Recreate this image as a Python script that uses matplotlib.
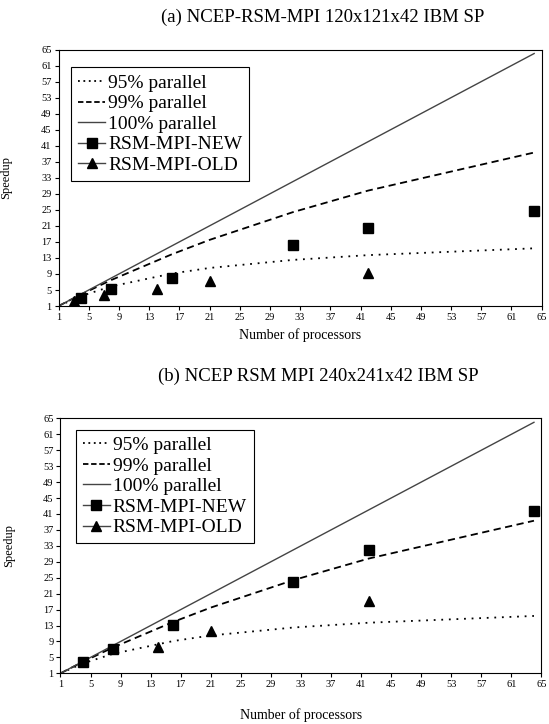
import matplotlib
matplotlib.use("Agg")
import matplotlib.pyplot as plt
from matplotlib.lines import Line2D

# Amdahl reference curves
n_curve = [1, 4, 8, 16, 21, 32, 42, 64]
speed_95 = [1, 3.5, 5.9, 9.1, 10.5, 12.5, 13.7, 15.4]
speed_99 = [1, 3.9, 7.5, 13.9, 17.5, 24.4, 29.8, 39.3]
speed_100 = [1, 4, 8, 16, 21, 32, 42, 64]

# (a) 120x121x42
a_new_n = [4, 8, 16, 32, 42, 64]
a_new_speed = [3.0, 5.2, 8.1, 16.2, 20.5, 24.8]
a_old_n = [3, 7, 14, 21, 42]
a_old_speed = [2.3, 3.8, 5.3, 7.3, 9.2]

# (b) 240x241x42
b_new_n = [4, 8, 16, 32, 42, 64]
b_new_speed = [3.8, 7.0, 13.2, 23.8, 31.9, 41.8]
b_old_n = [14, 21, 42]
b_old_speed = [7.5, 11.6, 19.1]

ticks = list(range(1, 66, 4))
titles = ["(a) NCEP-RSM-MPI 120x121x42 IBM SP", "(b) NCEP RSM MPI 240x241x42 IBM SP"]
labels = ["95% parallel", "99% parallel", "100% parallel", "RSM-MPI-NEW", "RSM-MPI-OLD"]

plt.rcParams["font.family"] = ["Liberation Serif", "DejaVu Serif"]

fig = plt.figure(figsize=(5.49, 7.24), dpi=100)
ax_a = fig.add_axes([0.1066, 0.5773, 0.8801, 0.3543])
ax_b = fig.add_axes([0.1102, 0.0700, 0.8761, 0.3522])

dash99 = (0, (4, 2.5))
dot95 = (0, (1, 3.2))


def draw(ax, new_n, new_s, old_n, old_s, legend_anchor, xlabel_y):
    ax.plot(n_curve, speed_95, color="black", lw=1.3, ls=dot95)
    ax.plot(n_curve, speed_99, color="black", lw=1.3, ls=dash99)
    ax.plot(n_curve, speed_100, color="#444444", lw=1.0, ls="-")
    ax.plot(new_n, new_s, ls="none", marker="s", ms=6.5, color="black")
    ax.plot(old_n, old_s, ls="none", marker="^", ms=7, color="black")

    ax.set_xlim(1, 65)
    ax.set_ylim(1, 65)
    ax.set_xticks(ticks)
    ax.set_yticks(ticks)
    ax.tick_params(direction="out", length=3, width=0.8, labelsize=7.5, pad=2)
    for s in ax.spines.values():
        s.set_linewidth(0.8)

    ax.set_xlabel("Number of processors", fontsize=10)
    ax.xaxis.set_label_coords(0.5, xlabel_y)
    ax.set_ylabel("Speedup", fontsize=9)
    ax.yaxis.set_label_coords(-0.095, 0.5)

    handles = [
        Line2D([], [], color="black", lw=1.3, ls=(0, (1, 2))),
        Line2D([], [], color="black", lw=1.3, ls=(0, (3, 1.5))),
        Line2D([], [], color="#444444", lw=1.0),
        Line2D([], [], color="#444444", lw=1.0, marker="s", ms=6.5, mfc="black", mec="black"),
        Line2D([], [], color="#444444", lw=1.0, marker="^", ms=7, mfc="black", mec="black"),
    ]
    leg = ax.legend(handles, labels, loc="upper left", bbox_to_anchor=legend_anchor,
                    borderaxespad=0, fontsize=14, frameon=True, fancybox=False,
                    edgecolor="black", framealpha=1, handlelength=1.4,
                    handletextpad=0.15, labelspacing=0.15, borderpad=0.35)
    leg.get_frame().set_linewidth(0.8)


draw(ax_a, a_new_n, a_new_speed, a_old_n, a_old_speed, (0.026, 0.93), -0.085)
draw(ax_b, b_new_n, b_new_speed, b_old_n, b_old_speed, (0.0316, 0.955), -0.135)

fig.text(323 / 549, 1 - 17.6 / 724, titles[0], ha="center", va="center", fontsize=13.5)
fig.text(318 / 549, 1 - 376 / 724, titles[1], ha="center", va="center", fontsize=13.5)

fig.savefig("out.png", dpi=100)
